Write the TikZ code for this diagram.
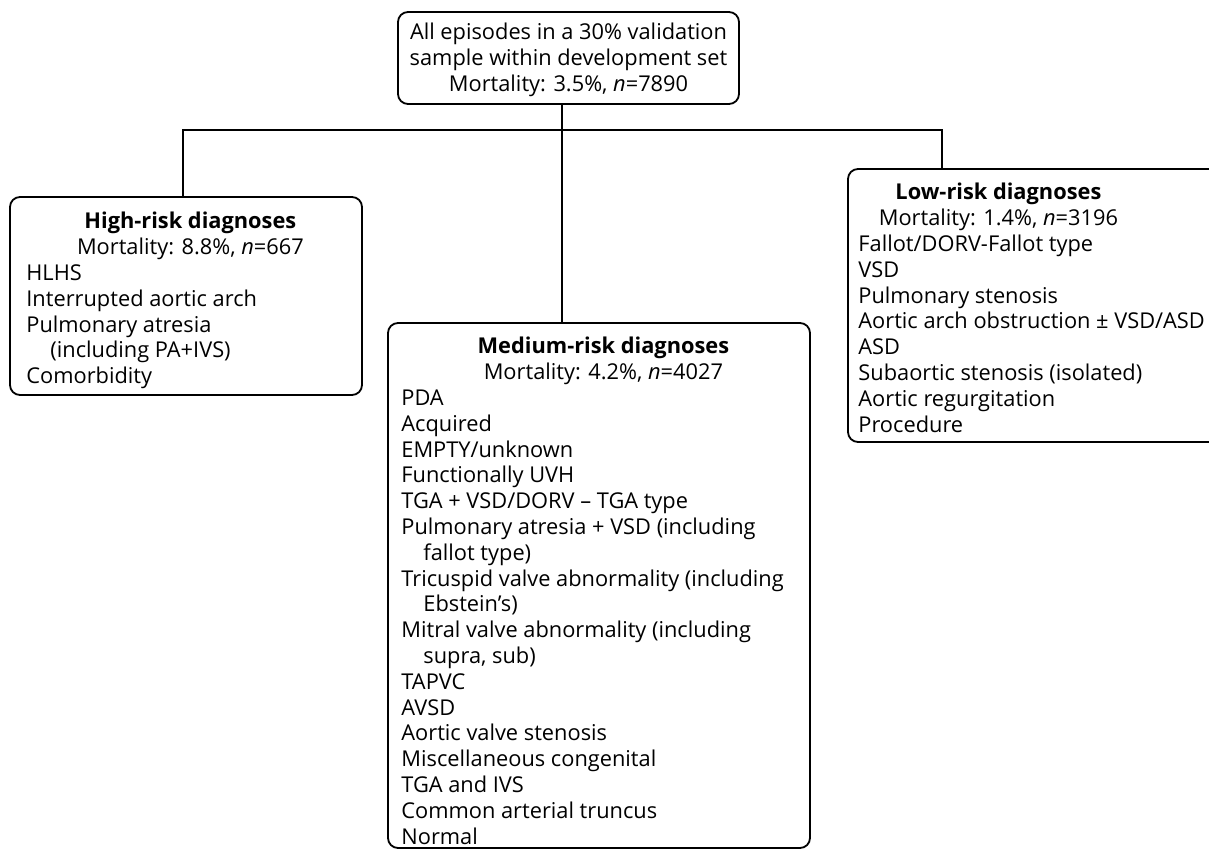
\documentclass[tikz,border=0pt]{standalone}
\usepackage{fontspec}
\setmainfont{Open Sans}
\usetikzlibrary{positioning}
\tikzset{box/.style = {draw, rounded corners=5pt, line width=0.9pt, inner sep=0pt}}
\tikzset{txt/.style = {inner sep=0pt, font=\fontsize{10.9}{12.9}\selectfont}}
\tikzset{link/.style = {line width=0.9pt}}

\begin{document}
\begin{tikzpicture}[x=0.5pt,y=-0.5pt]
                \clip (0,0) rectangle (1209,850);

                \node[box, minimum width=170.5pt, minimum height=46pt] (top) at (568.5,58) {};
                \node[box, minimum width=176pt, minimum height=99pt] (high) at (186,296) {};
                \node[box, minimum width=211pt, minimum height=262.5pt] (mid) at (599,585.5) {};
                \node[box, minimum width=191pt, minimum height=136.5pt] (low) at (1039,305.5) {};

                \node[txt, align=center] (toptext) at (568.5,60) {All episodes in a 30\% validation\\sample within development set\\Mortality: 3.5\%, \emph{n}=7890};

                \node[txt, align=left, anchor=north west] (highlist) at (26,212) {\makebox[164pt]{\textbf{High-risk diagnoses}}\\\makebox[164pt]{Mortality: 8.8\%, \emph{n}=667}\\HLHS\\Interrupted aortic arch\\Pulmonary atresia\\\hspace*{12pt}(including PA+IVS)\\Comorbidity};

                \node[txt, align=left, anchor=north west] (midlist) at (401,337) {\makebox[202pt]{\textbf{Medium-risk diagnoses}}\\\makebox[202pt]{Mortality: 4.2\%, \emph{n}=4027}\\PDA\\Acquired\\EMPTY/unknown\\Functionally UVH\\TGA + VSD/DORV -- TGA type\\Pulmonary atresia + VSD (including\\\hspace*{11pt}fallot type)\\Tricuspid valve abnormality (including\\\hspace*{11pt}Ebstein's)\\Mitral valve abnormality (including\\\hspace*{11pt}supra, sub)\\TAPVC\\AVSD\\Aortic valve stenosis\\Miscellaneous congenital\\TGA and IVS\\Common arterial truncus\\Normal};

                \node[txt, align=left, anchor=north west] (lowlist) at (858,183) {\makebox[140pt]{\textbf{Low-risk diagnoses}}\\\makebox[140pt]{Mortality: 1.4\%, \emph{n}=3196}\\Fallot/DORV-Fallot type\\VSD\\Pulmonary stenosis\\Aortic arch obstruction ± VSD/ASD\\ASD\\Subaortic stenosis (isolated)\\Aortic regurgitation\\Procedure};

                \coordinate (split) at (562,130);
                \coordinate (lefttop) at (183,130);
                \coordinate (righttop) at (942,130);

                \draw[link] (top.south -| split) -- (split |- mid.north);
                \draw[link] (lefttop |- high.north) -- (lefttop) -- (righttop) -- (righttop |- low.north);
            \end{tikzpicture}
\end{document}
